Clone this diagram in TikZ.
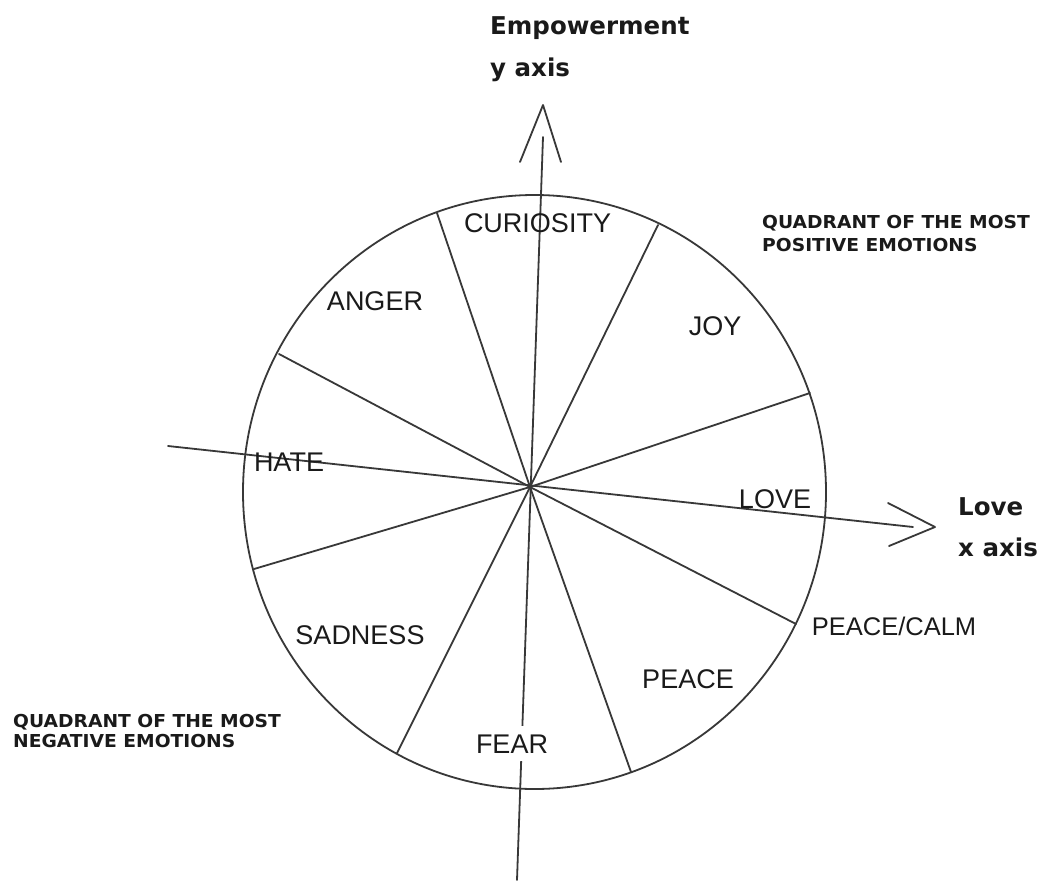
\documentclass[tikz,border=0pt]{standalone}
\usepackage{fontspec}
\setmainfont{Liberation Sans}
\newfontfamily\hdfont{DejaVu Sans}
\newcommand\qline[1]{\scalebox{1.05}[1]{#1}}
\definecolor{ink}{HTML}{383838}
\definecolor{txt}{HTML}{1A1A1A}
\begin{document}
\begin{tikzpicture}[x=1pt,y=-1pt,
  wire/.style={draw=ink, line width=1.8pt, line cap=round, line join=round},
  lbl/.style={anchor=base, inner sep=0pt, text=txt, font=\fontsize{27}{32}\selectfont},
  axlbl/.style={anchor=base west, inner sep=0pt, text=txt, align=left, font=\hdfont\bfseries\fontsize{24.5}{42}\selectfont},
  quad/.style={anchor=base west, inner sep=0pt, text=txt, align=left, font=\hdfont\bfseries\fontsize{17.8}{22}\selectfont}]
\useasboundingbox[fill=white] (0,0) rectangle (1043,880);

% circle and hub
\coordinate (c) at (534.5,492);
\coordinate (hub) at (530,487);
\draw[wire] (c) ellipse [x radius=291.5, y radius=297];

% rim points of the spokes
\coordinate (r1) at (437,213);
\coordinate (r2) at (658,225);
\coordinate (r3) at (279,354);
\coordinate (r4) at (810,393);
\coordinate (r5) at (254,569);
\coordinate (r6) at (796,624);
\coordinate (r7) at (397,753);
\coordinate (r8) at (631,772);
\foreach \r in {r1,r2,r3,r4,r5,r6,r7,r8}
  \draw[wire] (hub) -- (\r);

% y axis
\coordinate (ybot) at (517,880);
\coordinate (ytop) at (543,137);
\coordinate (ytip) at (543,105);
\coordinate (yl) at (520,162);
\coordinate (yr) at (561,162);
\draw[wire] (ybot) -- (ytop);
\draw[wire] (yl) -- (ytip) -- (yr);

% x axis
\coordinate (xleft) at (168,446);
\coordinate (xright) at (913,527);
\coordinate (xtip) at (935,527);
\coordinate (xu) at (888,503);
\coordinate (xd) at (889,546);
\draw[wire] (xleft) -- (xright);
\draw[wire] (xu) -- (xtip) -- (xd);

% sector labels
\node[lbl] (curiosity) at (537.5,232) {CURIOSITY};
\node[lbl] (anger) at (375,310) {ANGER};
\node[lbl] (joy) at (715,335) {JOY};
\node[lbl] (hate) at (289,471) {HATE};
\node[lbl] (love) at (775,508) {LOVE};
\node[lbl, font=\fontsize{25.5}{30}\selectfont] (peacecalm) at (894,635) {PEACE/CALM};
\node[lbl] (sadness) at (360,644) {SADNESS};
\node[lbl] (peace) at (688,688) {PEACE};
\node[lbl, fill=white, inner xsep=2pt, inner ysep=8pt] (fear) at (512,753) {FEAR};

% axis labels (anchor is the baseline of the last line)
\node[axlbl] (ylab) at (490,77) {Empowerment\\y axis};
\node[axlbl, font=\hdfont\bfseries\fontsize{24.5}{41}\selectfont] (xlab) at (958,556) {Love\\x axis};

% quadrant notes
\node[quad, font=\hdfont\bfseries\fontsize{17.8}{23}\selectfont] (qpos) at (762,251) {\qline{QUADRANT OF THE MOST}\\\qline{POSITIVE EMOTIONS}};
\node[quad, font=\hdfont\bfseries\fontsize{17.8}{20}\selectfont] (qneg) at (13,747) {\qline{QUADRANT OF THE MOST}\\\qline{NEGATIVE EMOTIONS}};
\end{tikzpicture}
\end{document}
